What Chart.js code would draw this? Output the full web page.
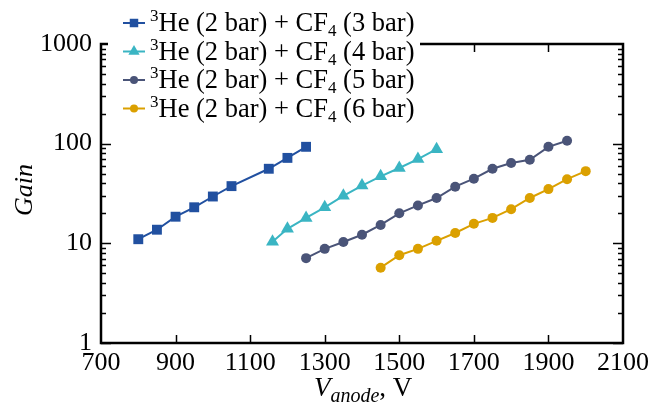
<!DOCTYPE html>
<html>
<head>
<meta charset="utf-8">
<script src="https://cdn.jsdelivr.net/npm/chart.js@4"></script>
<style>
    html, body { margin: 0; padding: 0; background: #fff; }
    canvas { display: block; }
</style>
</head>
<body>
<canvas id="gainChart" width="663" height="409"></canvas>
<script>
// data
const pressures = ['3 bar', '4 bar', '5 bar', '6 bar'];
const volts3 = [800, 850, 900, 950, 1000, 1050, 1150, 1200, 1250];
const gain3 = [11, 13.7, 18.5, 23, 29.5, 37.5, 56, 72, 93];
const volts4 = [1160, 1200, 1250, 1300, 1350, 1400, 1450, 1500, 1550, 1600];
const gain4 = [10.4, 14, 18, 23, 30, 38, 47, 57, 70, 88];
const volts5 = [1250, 1300, 1350, 1400, 1450, 1500, 1550, 1600, 1650, 1700, 1750, 1800, 1850, 1900, 1950];
const gain5 = [7.1, 8.8, 10.3, 12.2, 15.3, 20, 24, 28.5, 37, 44.5, 56, 64, 69, 93, 107];
const volts6 = [1450, 1500, 1550, 1600, 1650, 1700, 1750, 1800, 1850, 1900, 1950, 2000];
const gain6 = [5.7, 7.6, 8.8, 10.6, 12.7, 15.7, 18, 22, 28.5, 35, 44, 53];
const xTicks = [700, 900, 1100, 1300, 1500, 1700, 1900, 2100];
const yTicks = [1, 10, 100, 1000];

const colors = ['#2150a0', '#3ab5c3', '#4a5478', '#dba000'];
const markers = ['rect', 'triangle', 'circle', 'circle'];
const radii = [7, 7.5, 5, 5];

const FONT = '"Liberation Serif", "Times New Roman", serif';

function toPoints(xs, ys) {
    return xs.map((x, i) => ({ x: x, y: ys[i] }));
}

const seriesData = [
    toPoints(volts3, gain3),
    toPoints(volts4, gain4),
    toPoints(volts5, gain5),
    toPoints(volts6, gain6)
];

const datasets = seriesData.map((d, i) => ({
    label: '3He (2 bar) + CF4 (' + pressures[i] + ')',
    data: d,
    borderColor: colors[i],
    backgroundColor: colors[i],
    borderWidth: 2,
    pointStyle: markers[i],
    pointRadius: radii[i],
    pointBorderWidth: 0,
    pointBackgroundColor: colors[i],
    tension: 0
}));

// frame with inward ticks, like the original plot
const framePlugin = {
    id: 'frame',
    afterDatasetsDraw(chart) {
        const { ctx, chartArea: a, scales } = chart;
        ctx.save();
        ctx.strokeStyle = '#000';
        ctx.lineWidth = 1.5;
        ctx.beginPath();
        xTicks.slice(1, -1).forEach(v => {
            const px = Math.round(scales.x.getPixelForValue(v)) + 0.5;
            ctx.moveTo(px, a.bottom); ctx.lineTo(px, a.bottom - 8);
            ctx.moveTo(px, a.top); ctx.lineTo(px, a.top + 8);
        });
        for (let d = 1; d < 1000; d *= 10) {
            for (let m = 1; m <= 9; m++) {
                const v = d * m;
                const py = Math.round(scales.y.getPixelForValue(v)) + 0.5;
                const len = m === 1 ? 10 : 5;
                ctx.moveTo(a.left, py); ctx.lineTo(a.left + len, py);
                ctx.moveTo(a.right, py); ctx.lineTo(a.right - len, py);
            }
        }
        ctx.stroke();
        ctx.lineWidth = 2.5;
        ctx.strokeRect(a.left, a.top, a.right - a.left, a.bottom - a.top);
        ctx.restore();
    },
    afterDraw(chart) {
        const { ctx } = chart;
        ctx.save();
        // legend box
        ctx.fillStyle = '#fff';
        ctx.fillRect(108, 0, 312, 122);
        chart.data.datasets.forEach((ds, i) => {
            const y = 23 + i * 28.5;
            ctx.strokeStyle = ds.borderColor;
            ctx.lineWidth = 2;
            ctx.beginPath();
            ctx.moveTo(123, y); ctx.lineTo(145, y);
            ctx.stroke();
            ctx.fillStyle = ds.borderColor;
            Chart.helpers.drawPoint(ctx, { pointStyle: ds.pointStyle, radius: ds.pointRadius - 1, rotation: 0, borderWidth: 0 }, 134, y);
            ctx.fillStyle = '#000';
            ctx.textBaseline = 'alphabetic';
            ctx.textAlign = 'left';
            const base = y + 8;
            let x = 150;
            ctx.font = '17px ' + FONT;
            ctx.fillText('3', x, base - 10);
            x += ctx.measureText('3').width;
            ctx.font = '26.5px ' + FONT;
            ctx.fillText('He (2 bar) + CF', x, base);
            x += ctx.measureText('He (2 bar) + CF').width;
            ctx.font = '17px ' + FONT;
            ctx.fillText('4', x, base + 5);
            x += ctx.measureText('4').width;
            ctx.font = '26.5px ' + FONT;
            ctx.fillText(' (' + pressures[i] + ')', x, base);
        });

        // y title
        ctx.save();
        ctx.translate(25, 190);
        ctx.rotate(-Math.PI / 2);
        ctx.font = 'italic 26px ' + FONT;
        ctx.textAlign = 'center';
        ctx.textBaseline = 'middle';
        ctx.fillText('Gain', 0, 0);
        ctx.restore();

        // x title
        ctx.textAlign = 'left';
        ctx.textBaseline = 'alphabetic';
        const parts = [
            ['V', 'italic 27px ' + FONT, 0],
            ['anode', 'italic 20px ' + FONT, 6],
            [', V', '27px ' + FONT, 0]
        ];
        let x = 314;
        parts.forEach(p => {
            ctx.font = p[1];
            ctx.fillText(p[0], x, 396 + p[2]);
            x += ctx.measureText(p[0]).width;
        });
        ctx.restore();
    }
};

new Chart(document.getElementById('gainChart'), {
    type: 'line',
    data: { datasets: datasets },
    options: {
        responsive: false,
        animation: false,
        devicePixelRatio: 1,
        layout: { padding: { left: 0, right: 40, top: 44, bottom: 0 } },
        plugins: { legend: { display: false }, tooltip: { enabled: false } },
        scales: {
            x: {
                type: 'linear',
                min: 700,
                max: 2100,
                afterBuildTicks: s => { s.ticks = xTicks.map(v => ({ value: v })); },
                afterFit: s => { s.height = 66; },
                ticks: { color: '#000', font: { family: FONT, size: 26 }, padding: 5, maxRotation: 0, autoSkip: false, callback: v => String(v) },
                grid: { display: false, drawTicks: false },
                border: { display: false }
            },
            y: {
                type: 'logarithmic',
                min: 1,
                max: 1000,
                afterBuildTicks: s => { s.ticks = yTicks.map(v => ({ value: v })); },
                afterFit: s => { s.width = 101; },
                ticks: { color: '#000', font: { family: FONT, size: 26 }, padding: 9, callback: v => String(v) },
                grid: { display: false, drawTicks: false },
                border: { display: false }
            }
        }
    },
    plugins: [framePlugin]
});
</script>
</body>
</html>
